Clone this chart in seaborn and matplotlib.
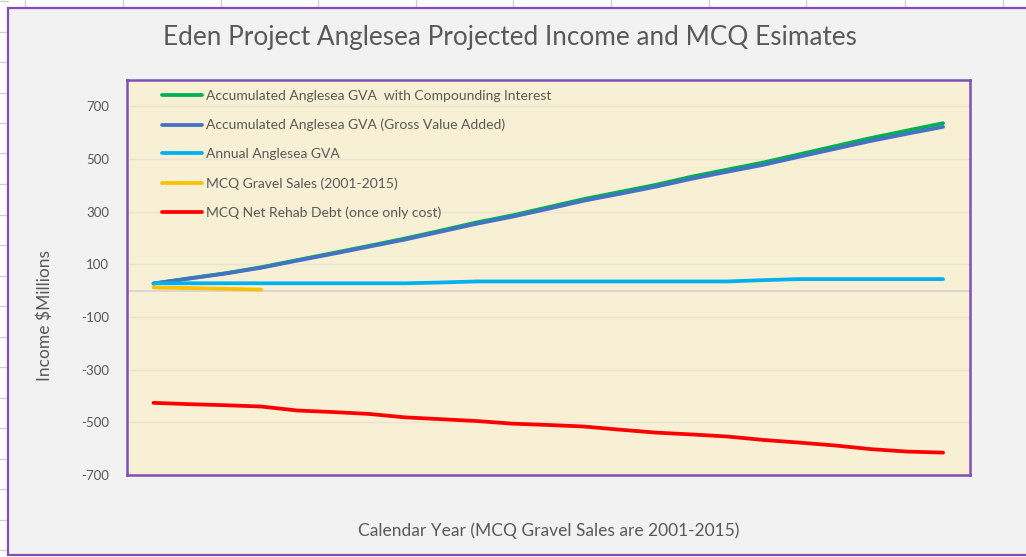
import pandas as pd
import matplotlib.pyplot as plt
import seaborn as sns
from matplotlib.lines import Line2D
from matplotlib.patches import Rectangle

# data (no year labels are shown on the x axis)
years = list(range(2001, 2024))
gva_compound = [27, 47, 66, 89, 116, 143, 170, 198, 228, 259, 286, 317, 348, 375,
                402, 433, 460, 487, 518, 549, 580, 608, 636]
gva_accum = [27, 46, 65, 87, 114, 140, 167, 194, 224, 254, 281, 311, 342, 368,
             395, 425, 452, 478, 509, 539, 569, 596, 622]
gva_annual = [28, 28, 28, 28, 28, 28, 28, 28, 31, 35, 35, 35, 35, 35,
              35, 35, 35, 40, 44, 44, 44, 44, 44]
gravel_sales = [12, 10, 7, 4]
rehab_debt = [-426, -431, -435, -440, -455, -461, -468, -481, -488, -495, -505, -510,
              -516, -528, -539, -546, -554, -567, -577, -588, -602, -611, -615]

series_names = ["Accumulated Anglesea GVA  with Compounding Interest",
                "Accumulated Anglesea GVA (Gross Value Added)",
                "Annual Anglesea GVA",
                "MCQ Gravel Sales (2001-2015)",
                "MCQ Net Rehab Debt (once only cost)"]
series_colors = ["#00b050", "#4472c4", "#00b0f0", "#ffc000", "#ff0000"]
y_ticks = [-700, -500, -300, -100, 100, 300, 500, 700]

frames = []
for name, vals in zip(series_names, [gva_compound, gva_accum, gva_annual, gravel_sales, rehab_debt]):
    frames.append(pd.DataFrame({"year": years[:len(vals)], "value": vals, "series": name}))
df = pd.concat(frames, ignore_index=True)

sns.set_style("white")
plt.rcParams['font.family'] = ['Lato', 'DejaVu Sans']
plt.rcParams['axes.unicode_minus'] = False

W, H = 1026, 557
fig = plt.figure(figsize=(10.26, 5.57), dpi=100, facecolor="white")

# spreadsheet cells peeking out around the chart
for x in [25, 123, 221, 318, 416, 513, 611, 709, 806, 905, 1003]:
    fig.add_artist(Line2D([x / W, x / W], [1, 1 - 8 / H], color="#d0d0d0", lw=1, zorder=-2))
for y in [1, 31.5, 62, 92.5, 123, 153.5, 184, 214.5, 245, 275.5, 306, 336.5, 367,
          397.5, 428, 458.5, 489, 519.5, 550]:
    fig.add_artist(Line2D([0, 8 / W], [1 - y / H, 1 - y / H], color="#d0d0d0", lw=1, zorder=-2))

# chart area
fig.patches.append(Rectangle((8 / W, 1 - 555 / H), 1.02, 547 / H, transform=fig.transFigure,
                             facecolor="#f2f2f2", edgecolor="#7f4fb5", lw=1.6, zorder=-1))

ax = fig.add_axes([127 / W, 1 - 475 / H, 843 / W, 395 / H])
ax.set_facecolor("#f8f0d4")

sns.lineplot(data=df, x="year", y="value", hue="series", hue_order=series_names,
             palette=series_colors, linewidth=2.7, ax=ax)

ax.set_xlim(years[0] - 0.74, years[-1] + 0.75)
ax.set_ylim(-700, 800)
ax.set_yticks(y_ticks)
ax.set_yticklabels([str(v) for v in y_ticks])
ax.set_xticks([])
ax.tick_params(axis="y", length=0, labelsize=9.5, labelcolor="#595959", pad=13)
ax.grid(axis="y", color="#e9e3d2", lw=1)
ax.set_axisbelow(True)
ax.axhline(0, color="#d4d4d4", lw=1.2, zorder=1)
for s in ax.spines.values():
    s.set_color("#7f4fb5")
    s.set_linewidth(1.8)

ax.set_xlabel("Calendar Year (MCQ Gravel Sales are 2001-2015)", fontsize=12.5,
              color="#595959", va="center")
ax.xaxis.set_label_coords(0.5, -0.142)
ax.set_ylabel("Income $Millions", fontsize=12.5, color="#595959", va="center")
ax.yaxis.set_label_coords(-0.097, 0.405)

sns.move_legend(ax, "upper left", bbox_to_anchor=(0.0415, 0.975), frameon=False,
                title=None, fontsize=10, handlelength=2.9, handletextpad=0.3,
                labelspacing=1.22, borderaxespad=0, borderpad=0)
for t in ax.get_legend().get_texts():
    t.set_color("#595959")

fig.text(0.497, 1 - 38 / H, "Eden Project Anglesea Projected Income and MCQ Esimates",
         ha="center", va="center", fontsize=18.8, color="#595959")

fig.savefig("out.png", dpi=100)
